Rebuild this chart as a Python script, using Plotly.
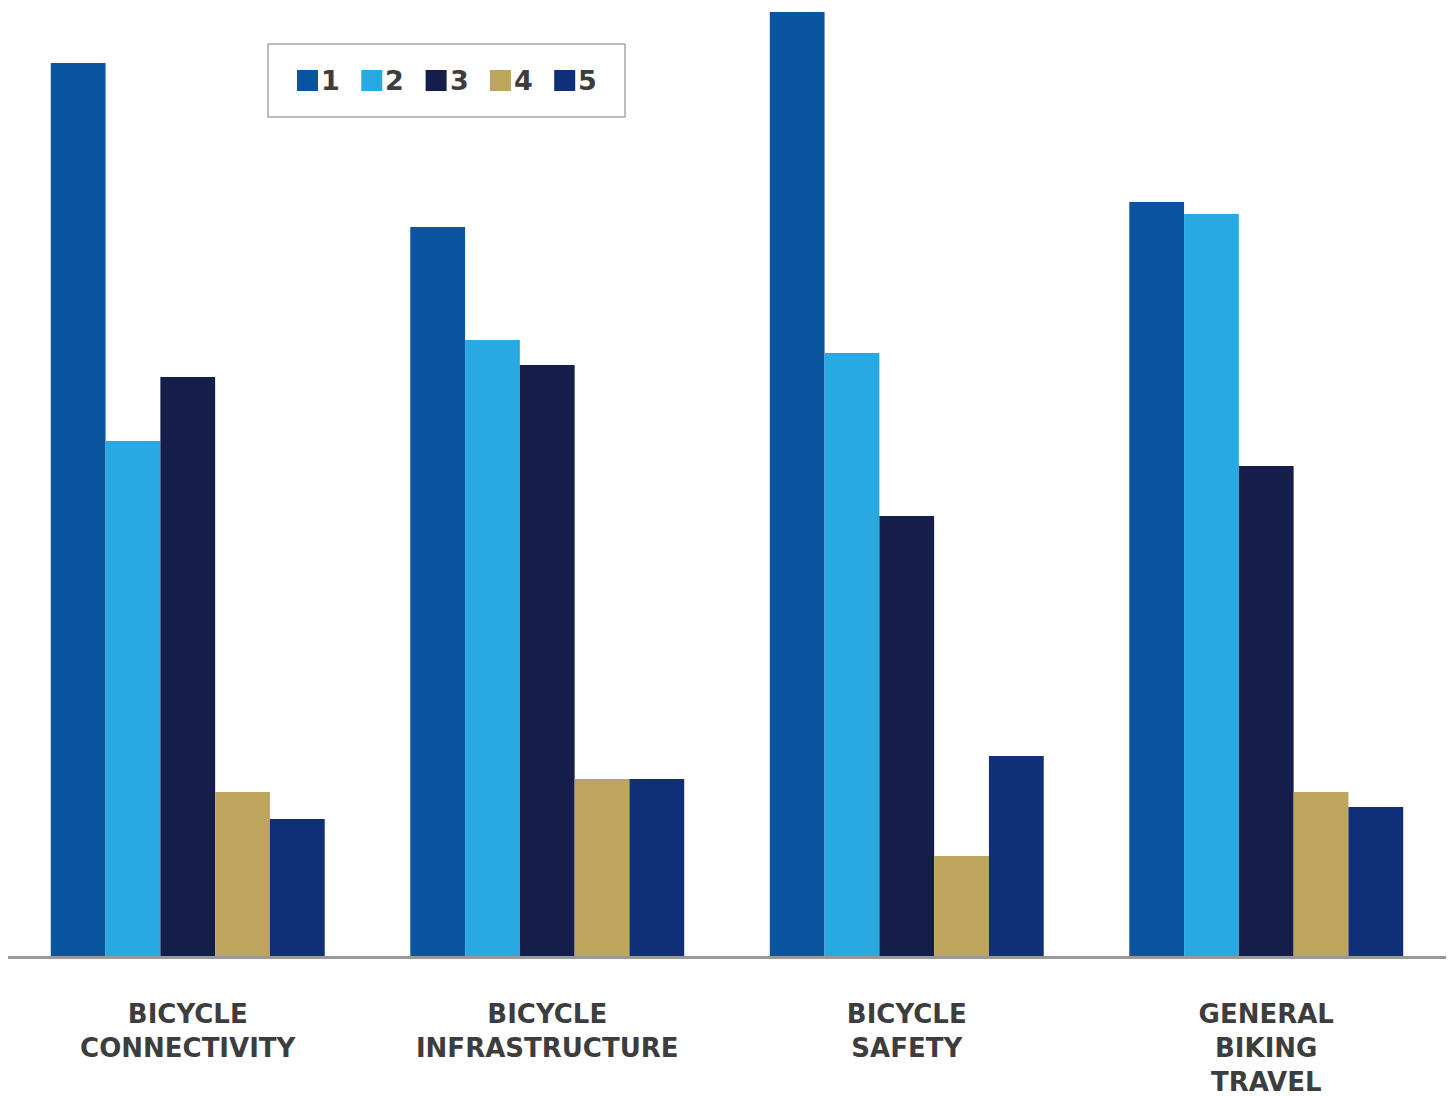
import plotly.graph_objects as go

categories = ["BICYCLE<br>CONNECTIVITY", "BICYCLE<br>INFRASTRUCTURE", "BICYCLE<br>SAFETY", "GENERAL<br>BIKING<br>TRAVEL"]
series_names = ["1", "2", "3", "4", "5"]
s1 = [893, 729, 944, 754]
s2 = [515, 616, 603, 742]
s3 = [579, 591, 440, 490]
s4 = [164, 177, 100, 164]
s5 = [137, 177, 200, 149]
colors = ["#0A55A0", "#29A9E1", "#151E4A", "#BDA55E", "#0F2F78"]

W, H = 1453, 1096
L, R, T, B = 8, 7, 10, 140
pw, ph = W - L - R, H - T - B

def px(x):
    # page pixel -> paper x
    return (x - L) / pw

def py(y):
    # page pixel -> paper y
    return (H - B - y) / ph

fig = go.Figure()
for name, vals, col in zip(series_names, [s1, s2, s3, s4, s5], colors):
    fig.add_trace(go.Bar(x=categories, y=vals, name=name, marker_color=col,
                         marker_line_width=0, showlegend=False))

# hand-drawn legend box
fig.add_shape(type="rect", xref="paper", yref="paper",
              x0=px(268), x1=px(625), y0=py(117), y1=py(44),
              line=dict(color="#7a7a7a", width=1), fillcolor="white")
for i, (name, col) in enumerate(zip(series_names, colors)):
    x0 = 297 + i * 64.3
    fig.add_shape(type="rect", xref="paper", yref="paper",
                  x0=px(x0), x1=px(x0 + 21), y0=py(91), y1=py(70),
                  line_width=0, fillcolor=col)
    fig.add_annotation(xref="paper", yref="paper", x=px(x0 + 22), y=py(81),
                       text=name, showarrow=False, xanchor="left", yanchor="middle",
                       font=dict(family="DejaVu Sans", size=27, color="#3d3d3d", weight="bold"))

fig.update_layout(
    width=W, height=H,
    margin=dict(l=L, r=R, t=T, b=B),
    barmode="group", bargap=0.238, bargroupgap=0,
    plot_bgcolor="white", paper_bgcolor="white",
    xaxis=dict(showline=True, linecolor="#999999", linewidth=3, showgrid=False,
               ticks="", ticklabelstandoff=33, automargin=False,
               tickfont=dict(family="DejaVu Sans", size=26, color="#3d3d3d", weight="bold")),
    yaxis=dict(range=[0, ph], visible=False, showgrid=False, zeroline=False),
)

# drop the default body margin so the figure sits at the page corner
fig.write_html("out.html", config={"displayModeBar": False},
               post_script="document.body.style.margin='0';")
